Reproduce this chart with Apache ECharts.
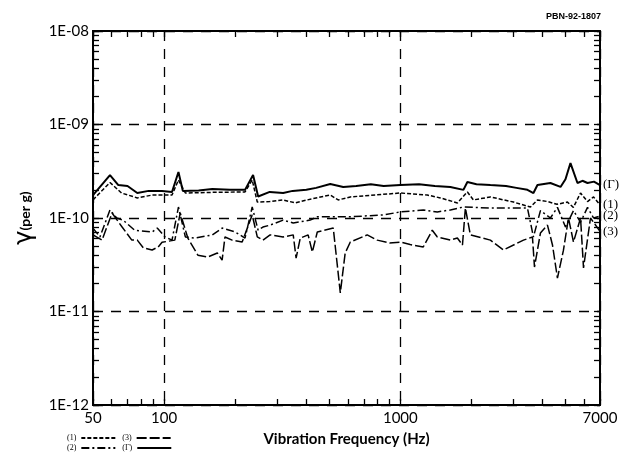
<!DOCTYPE html>
<html>
<head>
<meta charset="utf-8">
<script src="https://cdn.jsdelivr.net/npm/echarts@6/dist/echarts.min.js"></script>
<style>
html, body { margin: 0; padding: 0; background: #fff; }
#main { width: 626px; height: 470px; }
</style>
</head>
<body>
<div id="main"></div>
<script>
// tick labels
var xTickValues = [50, 100, 1000, 7000];
var xTickLabels = ['50', '100', '1000', '7000'];
var yTickValues = [1e-12, 1e-11, 1e-10, 1e-9, 1e-8];
var yTickLabels = ['1E-12', '1E-11', '1E-10', '1E-09', '1E-08'];

// (Γ) total
var freqG = [50, 59, 64, 70, 77, 86, 98, 108, 115, 120, 140, 160, 190, 220, 238, 250, 280, 319, 350, 400,
  440, 505, 573, 650, 750, 850, 1000, 1200, 1400, 1628, 1849, 1922, 2100, 2405, 2800, 3100, 3451, 3659, 3805, 4316,
  4764, 5000, 5249, 5620, 5900, 6198, 6600, 7000];
var valG = [1.76e-10, 2.88e-10, 2.25e-10, 2.2e-10, 1.85e-10, 1.95e-10, 1.95e-10, 1.9e-10, 3.1e-10, 1.95e-10,
  1.97e-10, 2.04e-10, 2.0e-10, 2.0e-10, 2.88e-10, 1.7e-10, 1.9e-10, 1.85e-10, 1.95e-10, 2.0e-10,
  2.1e-10, 2.31e-10, 2.15e-10, 2.2e-10, 2.3e-10, 2.2e-10, 2.25e-10, 2.3e-10, 2.2e-10, 2.15e-10,
  2.0e-10, 2.43e-10, 2.3e-10, 2.25e-10, 2.2e-10, 2.1e-10, 2.0e-10, 1.85e-10, 2.25e-10, 2.37e-10,
  2.15e-10, 2.6e-10, 3.87e-10, 2.37e-10, 2.5e-10, 2.37e-10, 2.45e-10, 2.25e-10];

// (1)
var freq1 = [50, 59, 66, 77, 89, 108, 115, 123, 160, 220, 236, 248, 280, 319, 359, 420, 505, 546, 614, 750,
  1000, 1300, 1476, 1743, 1922, 2037, 2405, 3012, 3555, 3805, 4200, 4600, 5096, 5400, 5791, 6200, 6574, 7000];
var val1 = [1.56e-10, 2.4e-10, 1.85e-10, 1.64e-10, 1.76e-10, 1.76e-10, 2.55e-10, 1.85e-10, 1.88e-10, 1.9e-10,
  2.55e-10, 1.48e-10, 1.5e-10, 1.56e-10, 1.45e-10, 1.6e-10, 1.76e-10, 1.56e-10, 1.68e-10, 1.75e-10,
  1.85e-10, 1.76e-10, 1.64e-10, 1.45e-10, 1.9e-10, 1.56e-10, 1.68e-10, 1.48e-10, 1.31e-10, 1.56e-10,
  1.5e-10, 1.4e-10, 1.48e-10, 1.3e-10, 1.85e-10, 1.5e-10, 1.68e-10, 1.38e-10];

// (2)
var freq2 = [50, 53.5, 59, 63, 67, 75, 89, 93.5, 101, 108, 115, 123, 135, 160, 176, 200, 220, 236, 250, 262,
  281, 319, 352, 415, 445, 614, 847, 1000, 1250, 1434, 1628, 1849, 2405, 3451, 3659, 3917, 4316, 4623, 5000, 5406,
  5791, 6198, 6574, 7000];
var val2 = [7.8e-11, 6.27e-11, 1.22e-10, 1.0e-10, 9.5e-11, 7.4e-11, 7.08e-11, 7.8e-11, 6.27e-11, 5.8e-11,
  1.31e-10, 6.27e-11, 6.1e-11, 6.6e-11, 7.8e-11, 7.08e-11, 6.1e-11, 1.31e-10, 7.4e-11, 8.0e-11,
  8.4e-11, 9.5e-11, 8.85e-11, 9.5e-11, 1.03e-10, 1.03e-10, 1.08e-10, 1.16e-10, 1.22e-10, 1.16e-10,
  1.22e-10, 1.31e-10, 1.28e-10, 1.28e-10, 6.27e-11, 1.2e-10, 1.0e-10, 1.3e-10, 8e-11, 1.2e-10,
  9e-11, 1.3e-10, 1.0e-10, 1.05e-10];

// (3)
var freq3 = [50, 54.6, 60.2, 66.4, 73, 77, 81.6, 89, 94.4, 98, 111, 117, 126, 139, 153, 168, 176, 181, 194, 214,
  236, 248, 262, 281, 319, 352, 362, 377, 407, 424, 445, 520, 557, 584, 614, 724, 798, 900, 1000, 1100,
  1250, 1365, 1434, 1628, 1743, 1832, 1885, 1978, 2405, 2729, 3320, 3624, 3696, 3917, 4195, 4405, 4623, 4900, 5148, 5406,
  5791, 5961, 6380, 7000];
var val3 = [6.6e-11, 5.8e-11, 1.13e-10, 8.0e-11, 5.8e-11, 5.8e-11, 4.8e-11, 4.55e-11, 4.9e-11, 5.5e-11,
  5.8e-11, 1.13e-10, 6.1e-11, 4.0e-11, 3.83e-11, 4.22e-11, 3.55e-11, 6.27e-11, 5.8e-11, 5.53e-11,
  1.08e-10, 6.27e-11, 5.8e-11, 6.6e-11, 6.27e-11, 6.6e-11, 3.73e-11, 6.1e-11, 6.6e-11, 4.33e-11,
  7.08e-11, 7.8e-11, 1.58e-11, 4.22e-11, 5.53e-11, 6.6e-11, 5.8e-11, 5.4e-11, 5.53e-11, 5.2e-11,
  4.9e-11, 7.4e-11, 6.27e-11, 5.8e-11, 6.1e-11, 5.15e-11, 1.28e-10, 6.6e-11, 5.8e-11, 4.55e-11,
  5.8e-11, 6.27e-11, 2.99e-11, 6.9e-11, 8.4e-11, 5.15e-11, 2.28e-11, 4.5e-11, 1.0e-10, 5.53e-11,
  1.0e-10, 2.93e-11, 1.0e-10, 7.2e-11];

// minor tick positions (1..9 per decade), placed on plain value axes in log10 units
var xMinor = [];
[10, 100, 1000].forEach(function (d) {
  for (var m = 1; m <= 9; m++) {
    var v = m * d;
    if (v >= 50 && v <= 7000) xMinor.push(Math.log10(v));
  }
});
var yMinor = [];
[-12, -11, -10, -9].forEach(function (e) {
  for (var m = 1; m <= 9; m++) yMinor.push(e + Math.log10(m));
});
yMinor.push(-8);

var font = 'Lato, "Open Sans", sans-serif';
var black = '#000';

function pairs(f, v) {
  return f.map(function (x, i) { return [x, v[i]]; });
}

function line(name, f, v, dash, width) {
  return {
    name: name,
    type: 'line',
    data: pairs(f, v),
    symbol: 'none',
    showSymbol: false,
    xAxisIndex: 0,
    yAxisIndex: 0,
    itemStyle: { color: black },
    lineStyle: { color: black, width: width, type: dash },
    endLabel: {
      show: true,
      formatter: name,
      distance: 3,
      color: black,
      fontFamily: '"Liberation Serif", serif',
      fontSize: 13
    }
  };
}

var myChart = echarts.init(document.getElementById('main'));

function tickAxis(pos) {
  var horiz = pos === 'top' || pos === 'bottom';
  return {
    type: 'value',
    min: horiz ? Math.log10(50) : -12,
    max: horiz ? Math.log10(7000) : -8,
    position: pos, offset: 0,
    axisLine: { show: true, onZero: false, lineStyle: { color: black, width: 2 } },
    axisTick: {
      show: true, inside: true, length: 6,
      customValues: horiz ? xMinor : yMinor,
      lineStyle: { color: black, width: 1.3 }
    },
    axisLabel: { show: false },
    splitLine: { show: false }
  };
}

var legendText = { fontSize: 8, fontFamily: '"Liberation Serif", serif', color: black };

var option = {
  animation: false,
  backgroundColor: '#fff',
  title: {
    text: 'PBN-92-1807',
    right: 20, top: 7,
    textStyle: { fontSize: 9, fontWeight: 'bold', fontFamily: '"Liberation Sans", sans-serif', color: black }
  },
  grid: { left: 93, right: 26, top: 31, bottom: 65, containLabel: false },
  legend: [
    {
      data: ['(1)', '(3)'],
      left: 62, top: 429,
      align: 'right',
      itemWidth: 34, itemHeight: 6, itemGap: 6,
      itemStyle: { opacity: 0 },
      textStyle: legendText
    },
    {
      data: ['(2)', '(Γ)'],
      left: 62, top: 439,
      align: 'right',
      itemWidth: 34, itemHeight: 6, itemGap: 6,
      itemStyle: { opacity: 0 },
      textStyle: legendText
    }
  ],
  xAxis: [
    {
      type: 'log', min: 50, max: 7000, position: 'bottom',
      axisLine: { show: true, onZero: false, lineStyle: { color: black, width: 2 } },
      axisTick: { show: false },
      axisLabel: {
        customValues: xTickValues,
        margin: 6,
        color: black, fontSize: 15, fontFamily: font,
        formatter: function (v) {
          var i = xTickValues.indexOf(Math.round(v));
          return i >= 0 ? xTickLabels[i] : '';
        }
      },
      splitLine: { show: true, lineStyle: { color: black, width: 1.3, type: [10, 8] } },
      name: 'Vibration Frequency (Hz)',
      nameLocation: 'middle',
      nameGap: 27,
      nameTextStyle: { fontSize: 15, fontWeight: 'bold', fontFamily: font, color: black }
    },
    tickAxis('bottom'),
    tickAxis('top')
  ],
  yAxis: [
    {
      type: 'log', min: 1e-12, max: 1e-8, position: 'left',
      axisLine: { show: true, onZero: false, lineStyle: { color: black, width: 2 } },
      axisTick: { show: false },
      axisLabel: {
        customValues: yTickValues,
        margin: 4,
        color: black, fontSize: 15, fontFamily: font,
        formatter: function (v) {
          var i = Math.round(Math.log10(v)) + 12;
          return yTickLabels[i] || '';
        }
      },
      splitLine: { show: true, lineStyle: { color: black, width: 1.3, type: [10, 8] } },
      name: '{g|γ}{p|(per g)}',
      nameLocation: 'middle',
      nameRotate: 90,
      nameGap: 56,
      nameTextStyle: {
        color: black,
        fontSize: 14,
        fontWeight: 'bold',
        fontFamily: font,
        rich: {
          g: { fontSize: 24, fontWeight: 'normal', fontFamily: '"DejaVu Sans", sans-serif', color: black },
          p: { fontSize: 14, fontWeight: 'bold', fontFamily: font, color: black }
        }
      }
    },
    tickAxis('left'),
    tickAxis('right')
  ],
  series: [
    line('(Γ)', freqG, valG, 'solid', 2),
    line('(1)', freq1, val1, [4, 2], 1.5),
    line('(2)', freq2, val2, [8, 3, 2, 3], 1.5),
    line('(3)', freq3, val3, [10, 3], 1.5)
  ]
};

myChart.setOption(option);
</script>
</body>
</html>
